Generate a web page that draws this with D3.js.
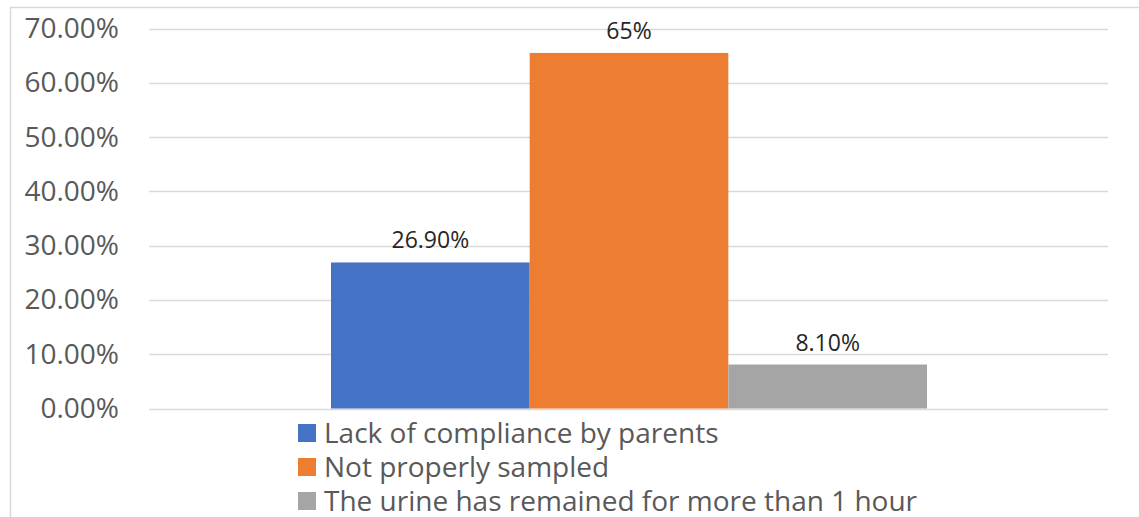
<!DOCTYPE html>
<html>
<head>
<meta charset="utf-8">
<script src="https://cdn.jsdelivr.net/npm/d3@7"></script>
<style>
  body { margin: 0; background: #fff; }
  svg { display: block; font-family: "Open Sans", "Liberation Sans", sans-serif; }
</style>
</head>
<body>
<svg id="chart" width="1139" height="517"></svg>
<script>
// data
const series = ["Lack of compliance by parents", "Not properly sampled", "The urine has remained for more than 1 hour"];
const values = [26.9, 65.5, 8.1];
const valueLabels = ["26.90%", "65%", "8.10%"];
const colors = ["#4472C4", "#ED7D31", "#A5A5A5"];
const yTicks = [0, 10, 20, 30, 40, 50, 60, 70];

const svg = d3.select("#chart");
const W = 1139, H = 517;

// outer chart border (runs off the right/bottom edge)
svg.append("rect")
  .attr("x", 10.5).attr("y", 7.5)
  .attr("width", W).attr("height", H)
  .attr("fill", "none").attr("stroke", "#d9d9d9").attr("stroke-width", 1.5);

const plotLeft = 149, plotRight = 1108, plotTop = 28.5, plotBottom = 408.5;

const y = d3.scaleLinear().domain([0, 70]).range([plotBottom, plotTop]);
const x = d3.scaleBand().domain(series).range([331, 927]).padding(0);

// gridlines
svg.append("g")
  .selectAll("line")
  .data(yTicks)
  .enter()
  .append("line")
  .attr("x1", plotLeft).attr("x2", plotRight)
  .attr("y1", d => Math.round(y(d)) + 0.5)
  .attr("y2", d => Math.round(y(d)) + 0.5)
  .attr("stroke", "#d9d9d9").attr("stroke-width", 1.5);

// y axis labels
const yAxis = d3.axisLeft(y).tickValues(yTicks).tickSize(0).tickPadding(0)
  .tickFormat(d => d3.format(".2f")(d) + "%");
svg.append("g")
  .attr("transform", "translate(119,0)")
  .call(yAxis)
  .call(g => g.select(".domain").remove())
  .selectAll("text")
  .attr("fill", "#595959")
  .style("font-size", "28px")
  .style("font-family", "'Open Sans', sans-serif");

// bars
svg.append("g")
  .selectAll("rect")
  .data(values)
  .enter()
  .append("rect")
  .attr("x", (d, i) => x(series[i]))
  .attr("width", x.bandwidth())
  .attr("y", d => y(d))
  .attr("height", d => plotBottom - y(d))
  .attr("fill", (d, i) => colors[i]);

// value labels
svg.append("g")
  .selectAll("text")
  .data(values)
  .enter()
  .append("text")
  .attr("x", (d, i) => x(series[i]) + x.bandwidth() / 2)
  .attr("y", d => y(d) - 14)
  .attr("text-anchor", "middle")
  .attr("fill", "#262626")
  .style("font-size", "23px")
  .text((d, i) => valueLabels[i]);

// legend
const legend = svg.append("g")
  .selectAll("g")
  .data(series)
  .enter()
  .append("g")
  .attr("transform", (d, i) => `translate(298,${433 + i * 34})`);

legend.append("rect")
  .attr("x", 0).attr("y", -9)
  .attr("width", 18).attr("height", 18)
  .attr("fill", (d, i) => colors[i]);

legend.append("text")
  .attr("x", 26).attr("y", 0)
  .attr("dy", "0.35em")
  .attr("fill", "#595959")
  .style("font-size", "28px")
  .text(d => d);
</script>
</body>
</html>
